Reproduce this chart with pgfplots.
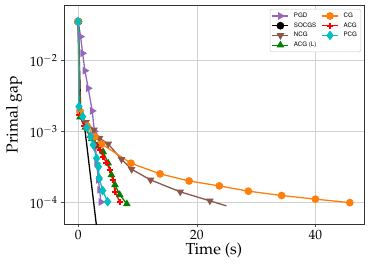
\documentclass[border=0pt]{standalone}
\usepackage[T1]{fontenc}
\usepackage{mathpazo}
\usepackage{pgfplots}
\pgfplotsset{compat=1.18}
\usetikzlibrary{plotmarks}
\definecolor{cpgd}{RGB}{148,103,189}
\definecolor{cncg}{RGB}{140,86,75}
\definecolor{ccg}{RGB}{255,127,14}
\definecolor{cacgl}{RGB}{0,128,0}
\definecolor{cacg}{RGB}{255,0,0}
\definecolor{cpcg}{RGB}{0,191,191}
\begin{document}
\begin{tikzpicture}
\useasboundingbox (-64bp,-48bp) rectangle (307bp,224bp);
\begin{axis}[
  scale only axis, width=300bp, height=219bp,
  at={(0,0)}, anchor=south west,
  ymode=log,
  xmin=-2.4, xmax=48.2,
  ymin=5.0e-5, ymax=0.0608,
  xtick={0,20,40}, ytick={1e-4,1e-3,1e-2},
  minor ytick={}, 
  log basis y=10,
  tick align=outside, tick pos=left,
  major tick length=3bp,
  every tick/.style={black!70, line width=0.6pt},
  axis line style={black!80, line width=0.8pt},
  grid=major, major grid style={gray!35, line width=0.6pt},
  tick label style={font=\fontsize{13.5}{15}\selectfont},
  xlabel={Time (s)}, ylabel={Primal gap},
  label style={font=\fontsize{16}{18}\selectfont},
  xlabel style={yshift=4bp},
  ylabel style={yshift=1bp},
  legend columns=2,
  legend style={at={(0.99,0.982)}, anchor=north east, font=\fontsize{6.2}{7.2}\usefont{T1}{phv}{m}{n},
    draw=gray!40, rounded corners=1.5pt, line width=0.5pt, inner sep=1.8pt,
    row sep=-0.3pt, column sep=3pt, cells={anchor=west}},
  legend image code/.code={
    \draw[mark repeat=2,mark phase=2,#1] plot coordinates {(0cm,0cm) (0.28cm,0cm) (0.56cm,0cm)};},
  every axis plot/.append style={line width=1.3pt, mark size=3.2bp},
]
% legend entries (row-wise to mimic column-first order)
\addlegendimage{cpgd, mark=triangle*, mark options={rotate=-90}}
\addlegendentry{PGD}
\addlegendimage{ccg, mark=*}
\addlegendentry{CG}
\addlegendimage{black, mark=*}
\addlegendentry{SOCGS}
\addlegendimage{cacg, mark=+, mark options={line width=1.8pt}}
\addlegendentry{ACG}
\addlegendimage{cncg, mark=triangle*, mark options={rotate=180}}
\addlegendentry{NCG}
\addlegendimage{cpcg, mark=diamond*, mark options={scale=1.2}}
\addlegendentry{PCG}
\addlegendimage{cacgl, mark=triangle*}
\addlegendentry{ACG (L)}

% PGD
\addplot[cpgd, mark=triangle*, mark options={rotate=-90}, forget plot] coordinates {
(0,0.0355) (0.4,0.0218) (0.74,0.0127) (1.13,7.22e-3) (1.69,4.08e-3) (2.36,1.96e-3)
(2.73,1.01e-3) (2.93,6.1e-4) (3.1,3.59e-4) (3.4,2.09e-4) (3.6,1.51e-4) (3.83,1.02e-4)};
% SOCGS
\addplot[black, mark=*, mark indices={1}, forget plot] coordinates {
(0,0.0355) (0.4,2.25e-3) (0.8,1.81e-3) (3.04,5.0e-5) (3.4,3.0e-5)};
% NCG
\addplot[cncg, mark=triangle*, mark options={rotate=180}, mark indices={1,2,3,4,5,6,7,8,9,10,11}, forget plot] coordinates {
(0,0.0355) (0.3,1.9e-3) (1.3,1.35e-3) (2.65,1.06e-3) (3.6,8.1e-4) (5.06,6.7e-4)
(7.3,4.08e-4) (9.0,2.95e-4) (12.2,2.09e-4) (17.2,1.42e-4) (22.2,1.06e-4) (25.0,9.0e-5)};
% ACG (L)
\addplot[cacgl, mark=triangle*, forget plot] coordinates {
(0,0.0355) (0.3,1.6e-3) (1.2,1.15e-3) (2.3,8.0e-4) (3.3,6.3e-4) (4.2,5.2e-4)
(5.06,3.59e-4) (5.6,2.46e-4) (6.2,1.78e-4) (7.0,1.29e-4) (8.2,9.6e-5)};
% CG
\addplot[ccg, mark=*, forget plot] coordinates {
(0,0.0355) (0.3,1.9e-3) (1.5,1.2e-3) (2.8,8.5e-4) (3.95,6.7e-4) (8.9,3.59e-4)
(13.8,2.54e-4) (18.7,2.02e-4) (23.8,1.72e-4) (28.7,1.45e-4) (34.3,1.26e-4)
(40.0,1.12e-4) (45.8,1.0e-4)};
% ACG
\addplot[cacg, mark=+, mark options={line width=1.8pt}, forget plot] coordinates {
(0,0.0355) (0.2,1.7e-3) (1.0,1.2e-3) (2.0,8.5e-4) (3.0,6.5e-4) (3.66,5.5e-4)
(4.2,4.45e-4) (4.8,3.59e-4) (5.35,2.89e-4) (5.85,2.09e-4) (6.2,1.43e-4) (7.0,1.03e-4)};
% PCG
\addplot[cpcg, mark=diamond*, mark options={scale=1.2}, forget plot] coordinates {
(0,0.0355) (0.12,2.25e-3) (0.74,1.63e-3) (1.42,1.14e-3) (2.09,8.5e-4) (2.53,6.5e-4)
(3.1,4.2e-4) (3.4,3.2e-4) (3.54,2.21e-4) (4.11,1.48e-4) (4.96,1.03e-4)};
\end{axis}
\end{tikzpicture}
\end{document}
